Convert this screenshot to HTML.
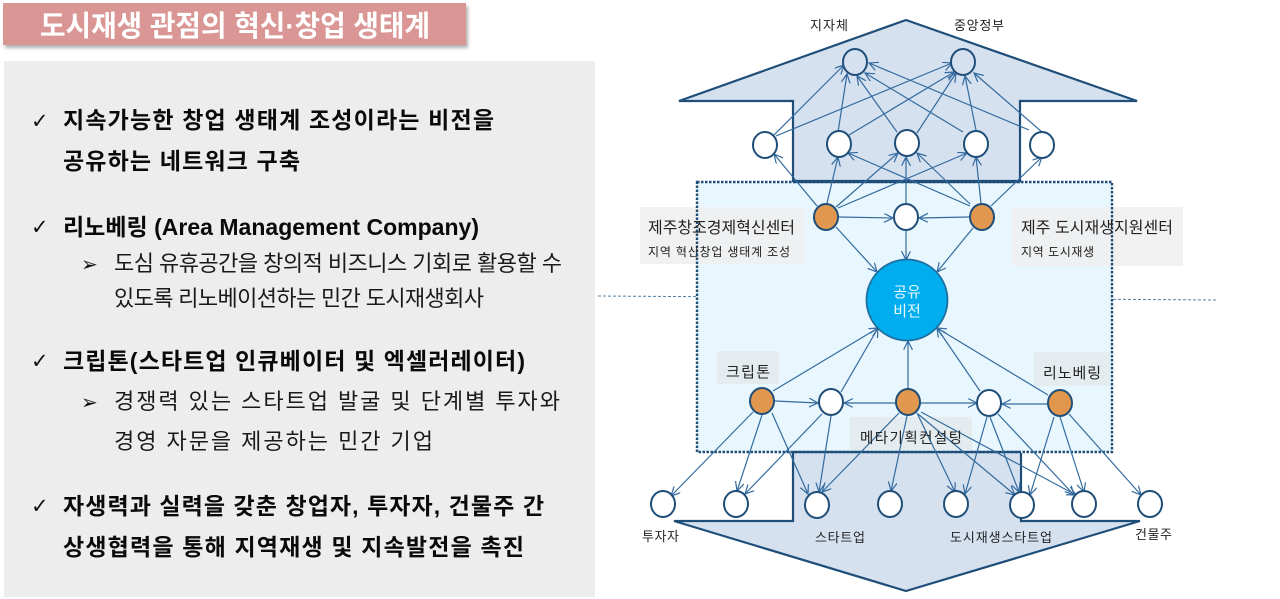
<!DOCTYPE html>
<html lang="ko"><head><meta charset="utf-8"><title>도시재생 관점의 혁신·창업 생태계</title>
<style>
html,body{margin:0;padding:0;background:#fff;width:1280px;height:599px;overflow:hidden}
svg{display:block}
text{font-family:"Liberation Sans","Noto Sans CJK KR",sans-serif}
.b{font-size:23px;font-weight:700;fill:#0a0a0a}
.r{font-size:22px;fill:#1a1a1a}
.s{font-size:13px;fill:#222}
.m{font-size:16px;fill:#222}
.t{font-size:12px;fill:#222}
.e line{stroke:#336b9f;stroke-width:1.2;marker-end:url(#a)}
.n ellipse{stroke:#1f4e79;stroke-width:2;fill:#fff}
.o ellipse{stroke:#1f4e79;stroke-width:2;fill:#e2974f}
</style></head><body>
<svg width="1280" height="599" viewBox="0 0 1280 599" xmlns="http://www.w3.org/2000/svg">
<defs>
<marker id="a" markerUnits="userSpaceOnUse" markerWidth="11" markerHeight="11" refX="9" refY="4.5" orient="auto"><path d="M0,0 L9,4.5 L0,9" fill="none" stroke="#336b9f" stroke-width="1.2"/></marker>
<filter id="sh" x="-5%" y="-20%" width="110%" height="150%"><feDropShadow dx="2" dy="3" stdDeviation="1.5" flood-color="#000" flood-opacity=".3"/></filter>
</defs>

<!-- left -->
<rect x="3" y="3" width="463" height="42" fill="#d99694" filter="url(#sh)"/>
<text x="40" y="36" font-size="29" font-weight="700" fill="#fff" textLength="390" lengthAdjust="spacingAndGlyphs">도시재생 관점의 혁신·창업 생태계</text>
<rect x="4" y="61" width="591" height="536" fill="#ededed"/>

<g font-size="21" font-weight="700" fill="#111">
<text x="31" y="128" style="font-family:'DejaVu Sans',sans-serif">✓</text>
<text x="31" y="234" style="font-family:'DejaVu Sans',sans-serif">✓</text>
<text x="31" y="368" style="font-family:'DejaVu Sans',sans-serif">✓</text>
<text x="31" y="513" style="font-family:'DejaVu Sans',sans-serif">✓</text>
</g>
<g font-size="20" fill="#111">
<text x="81" y="271" style="font-family:'DejaVu Sans',sans-serif">➢</text>
<text x="81" y="409" style="font-family:'DejaVu Sans',sans-serif">➢</text>
</g>
<text class="b" x="63" y="128" textLength="431">지속가능한 창업 생태계 조성이라는 비전을</text>
<text class="b" x="63" y="169" textLength="237">공유하는 네트워크 구축</text>
<text class="b" x="63" y="235" textLength="416">리노베링 (Area Management Company)</text>
<text class="r" x="114" y="271" textLength="448">도심 유휴공간을 창의적 비즈니스 기회로 활용할 수</text>
<text class="r" x="114" y="306" textLength="370">있도록 리노베이션하는 민간 도시재생회사</text>
<text class="b" x="63" y="369" textLength="462">크립톤(스타트업 인큐베이터 및 엑셀러레이터)</text>
<text class="r" x="114" y="409" textLength="446">경쟁력 있는 스타트업 발굴 및 단계별 투자와</text>
<text class="r" x="114" y="449" textLength="319">경영 자문을 제공하는 민간 기업</text>
<text class="b" x="63" y="514" textLength="481">자생력과 실력을 갖춘 창업자, 투자자, 건물주 간</text>
<text class="b" x="63" y="555" textLength="461">상생협력을 통해 지역재생 및 지속발전을 촉진</text>

<!-- right -->
<line x1="598" y1="296" x2="1217" y2="300" stroke="#4f7fa6" stroke-width="1" stroke-dasharray="3 2"/>
<rect x="697" y="182" width="415" height="270" fill="#e8f6fd"/>
<path d="M906,20 L679,101 L793,101 L793,181 L1020,181 L1020,101 L1137,101 Z" fill="#d6e1f0" stroke="#1f4e79" stroke-width="2.2" stroke-linejoin="miter"/>
<path d="M793,453 L793,521 L674,521 L906,591 L1140,521 L1021,521 L1021,453 Z" fill="#d6e1f0"/>
<path d="M793,453 L793,521 L674,521 L906,591 L1140,521 L1021,521 L1021,453" fill="none" stroke="#1f4e79" stroke-width="2.2"/>
<rect x="640" y="207" width="165" height="57" fill="#efefef" fill-opacity=".85"/>
<rect x="1012" y="207" width="171" height="59" fill="#efefef" fill-opacity=".85"/>
<rect x="717" y="351" width="62" height="33" fill="#e4ecef"/>
<rect x="1034" y="352" width="76" height="34" fill="#e4ecef"/>
<rect x="850" y="417" width="122" height="33" fill="#e4ecef"/>
<rect x="697" y="182" width="415" height="270" fill="none" stroke="#1f4e79" stroke-width="2.4" stroke-dasharray="2.5 1.5"/>
<line x1="793" y1="452" x2="1021" y2="452" stroke="#1f4e79" stroke-width="2.2"/>
<line x1="793" y1="182" x2="1020" y2="182" stroke="#1f4e79" stroke-width="2.2"/>

<g class="e">
<line x1="774" y1="135" x2="844" y2="65"/><line x1="776" y1="136" x2="952" y2="63"/>
<line x1="838" y1="132" x2="847" y2="74"/><line x1="849" y1="135" x2="954" y2="72"/>
<line x1="897" y1="132" x2="857" y2="76"/><line x1="917" y1="133" x2="956" y2="73"/>
<line x1="963" y1="132" x2="865" y2="73"/><line x1="976" y1="130" x2="965" y2="76"/>
<line x1="1029" y1="130" x2="869" y2="63"/><line x1="1042" y1="132" x2="974" y2="73"/>

<line x1="817" y1="206" x2="774" y2="154"/><line x1="827" y1="203" x2="838" y2="157"/>
<line x1="836" y1="207" x2="898" y2="153"/><line x1="838" y1="208" x2="967" y2="153"/>
<line x1="839" y1="217" x2="893" y2="218"/><line x1="836" y1="227" x2="877" y2="272"/>
<line x1="970" y1="206" x2="848" y2="153"/><line x1="970" y1="204" x2="917" y2="153"/>
<line x1="981" y1="203" x2="976" y2="157"/><line x1="991" y1="206" x2="1042" y2="157"/>
<line x1="969" y1="217" x2="919" y2="218"/><line x1="973" y1="228" x2="937" y2="272"/>
<line x1="906" y1="205" x2="906" y2="157"/><line x1="906" y1="231" x2="906" y2="260"/>

<line x1="773" y1="391" x2="878" y2="328"/><line x1="841" y1="392" x2="878" y2="328"/>
<line x1="908" y1="389" x2="908" y2="341"/><line x1="980" y1="391" x2="937" y2="328"/>
<line x1="1048" y1="395" x2="937" y2="328"/>
<line x1="775" y1="401" x2="818" y2="403"/><line x1="896" y1="403" x2="844" y2="403"/>
<line x1="920" y1="403" x2="977" y2="403"/><line x1="1048" y1="404" x2="1002" y2="404"/>

<line x1="753" y1="412" x2="671" y2="496"/><line x1="762" y1="415" x2="737" y2="491"/>
<line x1="772" y1="413" x2="808" y2="494"/><line x1="822" y1="414" x2="745" y2="494"/>
<line x1="831" y1="416" x2="819" y2="492"/><line x1="899" y1="413" x2="822" y2="492"/>
<line x1="907" y1="416" x2="891" y2="491"/><line x1="917" y1="413" x2="955" y2="492"/>
<line x1="918" y1="414" x2="1015" y2="495"/><line x1="921" y1="412" x2="1076" y2="495"/>
<line x1="987" y1="417" x2="965" y2="494"/><line x1="990" y1="417" x2="1019" y2="492"/>
<line x1="998" y1="414" x2="1074" y2="495"/><line x1="1054" y1="417" x2="1030" y2="495"/>
<line x1="1060" y1="417" x2="1084" y2="492"/><line x1="1069" y1="414" x2="1141" y2="495"/>
</g>

<g class="n">
<ellipse cx="855" cy="62" rx="12" ry="13" style="fill:#d6e1f0"/><ellipse cx="963" cy="62" rx="12" ry="13" style="fill:#d6e1f0"/>
<ellipse cx="765" cy="145" rx="12" ry="13"/><ellipse cx="839" cy="144" rx="12" ry="13"/><ellipse cx="907" cy="143" rx="12" ry="13"/><ellipse cx="976" cy="144" rx="12" ry="13"/><ellipse cx="1042" cy="145" rx="12" ry="13"/>
<ellipse cx="906" cy="217" rx="12" ry="13"/>
<ellipse cx="831" cy="402" rx="12" ry="13"/><ellipse cx="989" cy="403" rx="12" ry="13"/>
<ellipse cx="663" cy="504" rx="12" ry="13"/><ellipse cx="736" cy="504" rx="12" ry="13"/><ellipse cx="817" cy="505" rx="12" ry="13"/><ellipse cx="890" cy="504" rx="12" ry="13"/><ellipse cx="956" cy="504" rx="12" ry="13"/><ellipse cx="1022" cy="505" rx="12" ry="13"/><ellipse cx="1084" cy="504" rx="12" ry="13"/><ellipse cx="1150" cy="504" rx="12" ry="13"/>
</g>
<g class="o">
<ellipse cx="826" cy="217" rx="12" ry="13"/><ellipse cx="982" cy="217" rx="12" ry="13"/>
<ellipse cx="762" cy="401" rx="12" ry="13"/><ellipse cx="908" cy="402" rx="12" ry="13"/><ellipse cx="1060" cy="403" rx="12" ry="13"/>
</g>
<circle cx="907" cy="300" r="40.5" fill="#00aeef" stroke="#1f6f9f" stroke-width="1.8"/>
<text x="907" y="297" font-size="15" fill="#e8f8ff" text-anchor="middle">공유</text>
<text x="907" y="316" font-size="15" fill="#e8f8ff" text-anchor="middle">비전</text>

<text class="s" x="810" y="30" textLength="38">지자체</text>
<text class="s" x="954" y="30" textLength="50">중앙정부</text>
<text class="m" x="648" y="233" textLength="147">제주창조경제혁신센터</text>
<text class="t" x="648" y="256" textLength="142">지역 혁신창업 생태계 조성</text>
<text class="m" x="1021" y="233" textLength="152">제주 도시재생지원센터</text>
<text class="t" x="1021" y="256" textLength="73">지역 도시재생</text>
<text x="726" y="377" font-size="15" fill="#222" textLength="44">크립톤</text>
<text x="1043" y="378" font-size="15" fill="#222" textLength="58">리노베링</text>
<text x="860" y="443" font-size="14.5" fill="#222" textLength="102">메타기획컨설팅</text>
<text class="s" x="642" y="541" textLength="37">투자자</text>
<text class="s" x="815" y="542" textLength="50">스타트업</text>
<text class="s" x="950" y="542" textLength="102">도시재생스타트업</text>
<text class="s" x="1135" y="539" textLength="37">건물주</text>
</svg>
</body></html>
